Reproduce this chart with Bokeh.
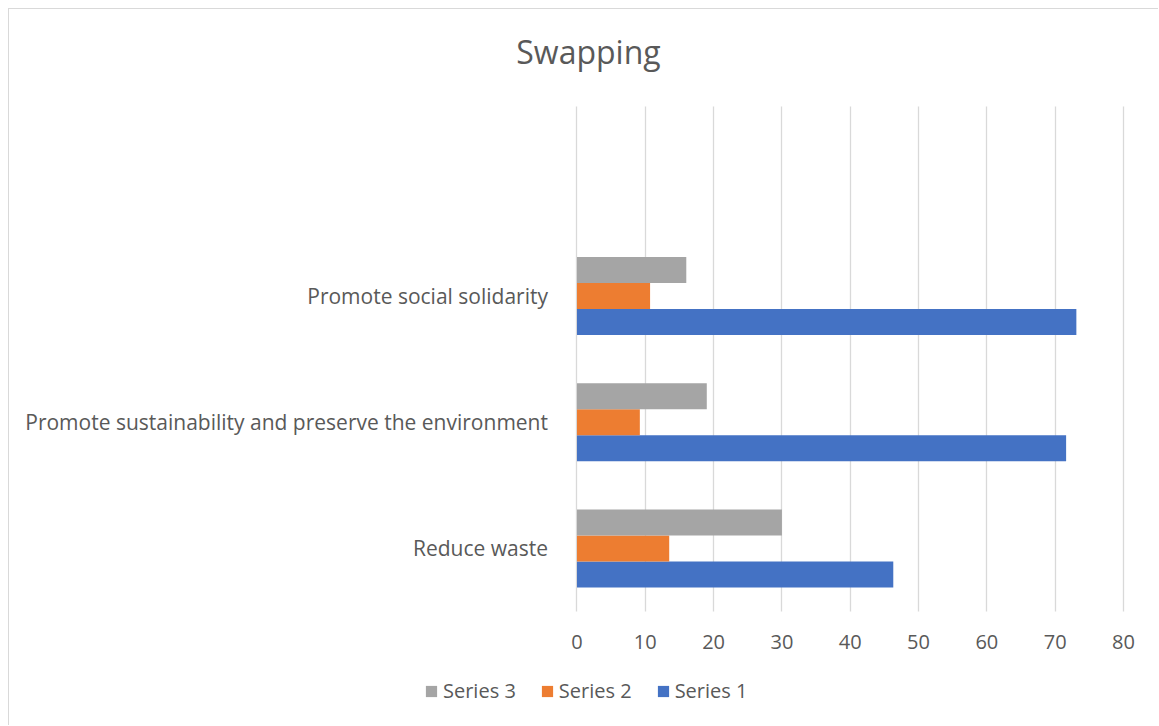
from bokeh.plotting import figure
from bokeh.models import (Range1d, FixedTicker, Legend, LegendItem, ColumnDataSource,
                          Label)
from bokeh.embed import file_html
from bokeh.resources import INLINE

# ---- data ----
categories = ["Reduce waste",
              "Promote sustainability and preserve the environment",
              "Promote social solidarity"]
series1 = [46.3, 71.6, 73.1]
series2 = [13.5, 9.2, 10.7]
series3 = [30.0, 19.0, 16.0]
series_names = ["Series 1", "Series 2", "Series 3"]
x_ticks = [0, 10, 20, 30, 40, 50, 60, 70, 80]
title_text = "Swapping"

colors = ["#4472C4", "#ED7D31", "#A5A5A5"]
FONT = "Open Sans"
TXT = "#595959"

pos = list(range(len(categories)))          # category slot index
n_slots = len(categories) + 1                # Excel leaves one empty slot on top
bh = 0.206                                   # bar thickness in slot units

src = ColumnDataSource(dict(
    pos=pos,
    y1=[v - bh for v in pos], y2=[v for v in pos], y3=[v + bh for v in pos],
    s1=series1, s2=series2, s3=series3))

W, H = 1150, 717
slot_px = 126.2
y_bottom = -1.4105
p = figure(width=W, height=H, output_backend="svg", toolbar_location=None,
           x_range=Range1d(-81.9, 85.27),
           y_range=Range1d(y_bottom, y_bottom + H / slot_px),
           min_border_left=8, min_border_right=0,
           min_border_top=0, min_border_bottom=0)
p.margin = (8, 0, 0, 8)
p.styles = {"border-left": "1px solid #d9d9d9", "border-top": "1px solid #d9d9d9"}

r1 = p.hbar(y="y1", right="s1", left=0, height=bh, source=src,
            color=colors[0], line_color=None)
r2 = p.hbar(y="y2", right="s2", left=0, height=bh, source=src,
            color=colors[1], line_color=None)
r3 = p.hbar(y="y3", right="s3", left=0, height=bh, source=src,
            color=colors[2], line_color=None)

p.outline_line_color = None
p.ygrid.grid_line_color = None
p.xgrid.grid_line_color = "#d9d9d9"
p.xgrid.grid_line_width = 1.3
p.xgrid.cross_bounds = (-0.5, n_slots - 0.5)

# chart title
p.add_layout(Label(x=571, y=675, x_units="screen", y_units="screen",
                   text=title_text, text_align="center", text_baseline="middle",
                   text_font=FONT, text_font_size="32px", text_color=TXT))

# value axis, drawn at the bottom of the plot area
xa = p.xaxis[0]
xa.fixed_location = -0.5
xa.ticker = FixedTicker(ticks=x_ticks)
xa.axis_line_color = None
xa.major_tick_line_color = None
xa.minor_tick_line_color = None
xa.major_label_text_font = FONT
xa.major_label_text_font_size = "20px"
xa.major_label_text_color = TXT
xa.major_label_standoff = 17

# category axis, drawn at value 0
ya = p.yaxis[0]
ya.fixed_location = 0
ya.ticker = FixedTicker(ticks=pos)
ya.major_label_overrides = {i: c for i, c in zip(pos, categories)}
ya.axis_line_color = None
ya.major_tick_line_color = None
ya.minor_tick_line_color = None
ya.major_label_text_font = FONT
ya.major_label_text_font_size = "21px"
ya.major_label_text_color = TXT
ya.major_label_standoff = 23

legend = Legend(items=[LegendItem(label=series_names[2], renderers=[r3]),
                       LegendItem(label=series_names[1], renderers=[r2]),
                       LegendItem(label=series_names[0], renderers=[r1])],
                orientation="horizontal", location=(407, 22),
                glyph_width=14, glyph_height=14, label_standoff=5, spacing=24,
                padding=0, margin=0, border_line_color=None,
                background_fill_alpha=0,
                label_text_font=FONT, label_text_font_size="20px",
                label_text_color=TXT)
p.add_layout(legend)

open("out.html", "w").write(file_html(p, INLINE))
